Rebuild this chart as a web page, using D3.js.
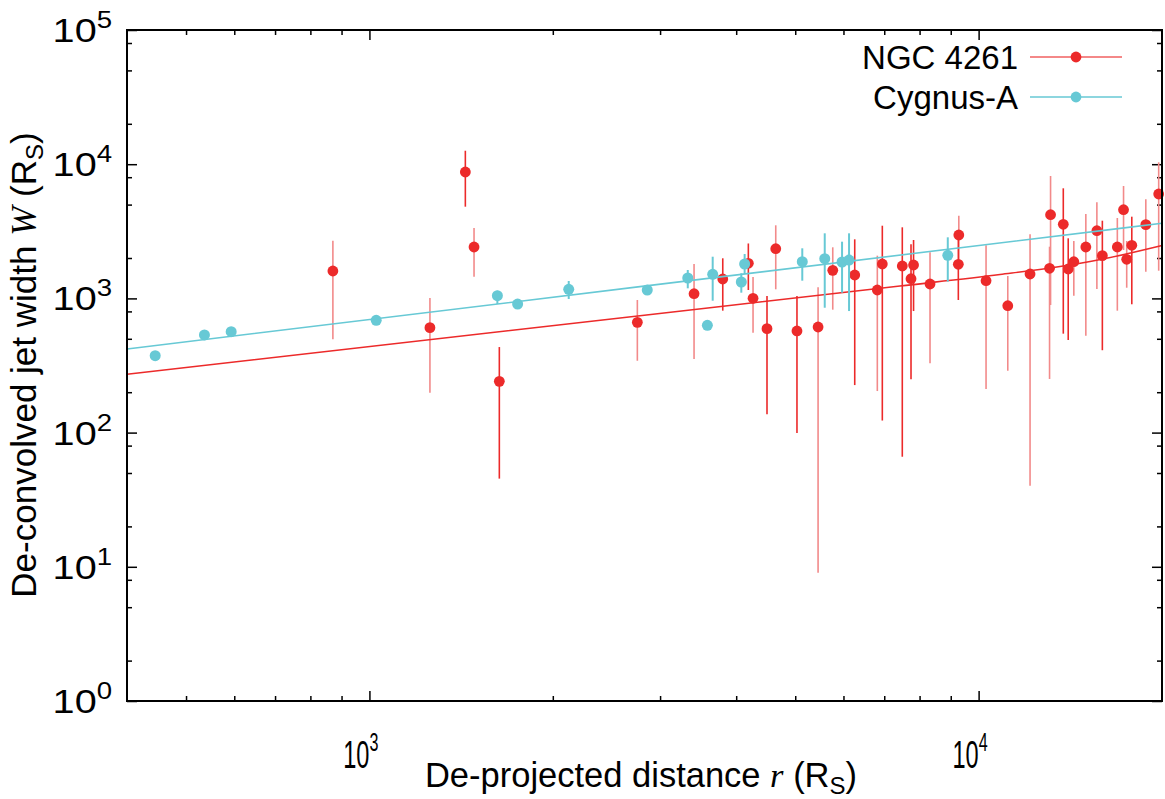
<!DOCTYPE html>
<html>
<head>
<meta charset="utf-8">
<script src="https://cdn.jsdelivr.net/npm/d3@7"></script>
<style>
  body { margin: 0; background: #fff; }
  svg { display: block; font-family: "Liberation Sans", Arial, Helvetica, sans-serif; }
</style>
</head>
<body>
<svg id="chart" width="1165" height="799"></svg>
<script>
// NGC 4261: de-projected distance r (R_S), jet width W (R_S), error bar ends
const ngcR = [871, 1257, 1437, 1485, 1634, 2753, 3411, 3802, 4188, 4263, 4494, 4645, 5033, 5451, 5762, 6261, 6819, 6949, 7494, 7745, 7820, 8322, 9279, 9262, 10285, 11165, 12146, 13075, 13125, 13772, 14031, 14331, 14997, 15636, 15963, 16893, 17294, 17502, 17842, 18813, 19751];
const ngcW = [1600, 605, 8747, 2415, 241, 663, 1084, 1395, 1826, 1002, 595, 2346, 572, 612, 1619, 1494, 1155, 1804, 1744, 1402, 1774, 1280, 2967, 1795, 1355, 882, 1520, 1676, 4204, 3566, 1656, 1877, 2415, 3195, 2081, 2415, 4581, 1956, 2487, 3542, 5998];
const ngcLo = [496, 198, 4824, 1451, 45.4, 343, 353, 810, 1155, 555, 137, 1169, 99.3, 9.04, 824, 226, 204, 123, 66.1, 250, 805, 328, 1867, 973, 211, 289, 40.2, 251, 893, 546, 490, 1047, 527, 1175, 411, 810, 2294, 1201, 904, 1581, 1608];
const ngcHi = [2692, 1007, 12600, 3346, 434, 973, 1804, 1990, 2566, 1444, 1042, 3505, 1042, 1209, 2403, 2756, 2081, 3481, 3386, 2530, 2724, 2205, 4133, 2724, 2487, 1469, 3003, 2428, 8166, 6613, 2803, 2677, 4255, 5201, 3793, 3973, 6880, 2677, 4063, 5474, 10332];
// two observing sessions, drawn with different error bar shades
const ngcSession = ["a", "a", "b", "a", "b", "a", "a", "b", "b", "a", "b", "a", "b", "a", "a", "b", "a", "b", "b", "b", "b", "a", "a", "b", "a", "a", "a", "a", "a", "b", "b", "a", "a", "a", "b", "a", "a", "a", "b", "a", "a"];

// Cygnus-A
const cygR = [445, 536, 593, 1026, 1622, 1751, 2124, 2858, 3331, 3587, 3660, 4078, 4130, 5135, 5590, 5968, 6128, 8900];
const cygW = [374, 534, 565, 687, 1047, 908, 1169, 1155, 1419, 630, 1512, 1325, 1804, 1877, 1976, 1867, 1932, 2095];
const cygLo = [374, 534, 565, 687, 908, 908, 990, 1060, 1189, 581, 961, 1103, 1520, 1355, 852, 1103, 805, 1332];
const cygHi = [374, 534, 565, 687, 1141, 908, 1348, 1259, 1628, 690, 2045, 1538, 2142, 2362, 3055, 2646, 3055, 2852];

// fitted profiles
const ngcFitR = [400, 2780, 7429, 10842, 13604, 15850, 20000];
const ngcFitW = [272, 743, 1237, 1507, 1729, 1950, 2479];
const cygFitR = [400, 2780, 20000];
const cygFitW = [420, 1223, 3627];

const xMajor = [1e3, 1e4];
const yMajor = [1, 10, 100, 1e3, 1e4, 1e5];
const legendNames = ["NGC 4261", "Cygnus-A"];

const width = 1165;
const height = 799;
const margin = { top: 30, right: 3, bottom: 98, left: 127 };
const red = "#ec2a2a";
const redLight = "#f28a8a";
const cyan = "#67c9d5";

const svg = d3.select("#chart");

const xScale = d3.scaleLog().domain([400, 20000]).range([margin.left, width - margin.right]);
const yScale = d3.scaleLog().domain([1, 1e5]).range([height - margin.bottom, margin.top]);

const xMinor = [];
[100, 1000, 10000].forEach((d) => {
  for (let k = 2; k <= 9; k++) {
    const v = d * k;
    if (v > 400 && v < 20000) xMinor.push(v);
  }
});
const yMinor = [];
[1, 10, 100, 1000, 10000].forEach((d) => {
  [2, 5, 8].forEach((k) => yMinor.push(d * k));
});

const x0 = xScale.range()[0];
const x1 = xScale.range()[1];
const y0 = yScale.range()[0];
const y1 = yScale.range()[1];

// ticks on all four sides, pointing inwards
const tickGroups = [
  [d3.axisBottom(xScale), `translate(0,${y0})`, xMajor, xMinor],
  [d3.axisTop(xScale), `translate(0,${y1})`, xMajor, xMinor],
  [d3.axisLeft(yScale), `translate(${x0},0)`, yMajor, yMinor],
  [d3.axisRight(yScale), `translate(${x1},0)`, yMajor, yMinor],
];
tickGroups.forEach(([axis, tr, major, minor]) => {
  svg.append("g")
    .attr("transform", tr)
    .call(axis.tickValues(major).tickSize(-10).tickFormat(""))
    .call((g) => g.select(".domain").remove())
    .call((g) => g.selectAll("line").attr("stroke", "#000").attr("stroke-width", 1.5));
  svg.append("g")
    .attr("transform", tr)
    .call(axis.tickValues(minor).tickSize(-5).tickFormat(""))
    .call((g) => g.select(".domain").remove())
    .call((g) => g.selectAll("line").attr("stroke", "#000").attr("stroke-width", 1.5));
});

// y tick labels 10^n
yMajor.forEach((v) => {
  const g = svg.append("g")
    .attr("transform", `translate(112,${yScale(v) + 12}) scale(1.2,1)`);
  const t = g.append("text").attr("text-anchor", "end").attr("font-size", 33).attr("fill", "#000");
  t.append("tspan").text("10");
  t.append("tspan").attr("font-size", 23).attr("dy", -14).text(Math.round(Math.log10(v)));
});

// x tick labels 10^n
xMajor.forEach((v) => {
  const g = svg.append("g")
    .attr("transform", `translate(${xScale(v) + 9},768) scale(0.62,1)`);
  const t = g.append("text").attr("text-anchor", "end").attr("font-size", 38).attr("fill", "#000");
  t.append("tspan").text("10");
  t.append("tspan").attr("font-size", 26).attr("dy", -17).text(Math.round(Math.log10(v)));
});

// axis titles
const xTitle = svg.append("text")
  .attr("x", 641).attr("y", 787)
  .attr("text-anchor", "middle").attr("font-size", 34.5);
xTitle.append("tspan").text("De-projected distance ");
xTitle.append("tspan").attr("font-family", "'Liberation Serif', serif").attr("font-style", "italic").text("r");
xTitle.append("tspan").text(" (R");
xTitle.append("tspan").attr("font-size", 24).attr("dy", 7).text("S");
xTitle.append("tspan").attr("dy", -7).text(")");

const yTitle = svg.append("text")
  .attr("transform", `translate(36,365) rotate(-90)`)
  .attr("text-anchor", "middle").attr("font-size", 35);
yTitle.append("tspan").text("De-convolved jet width  ");
yTitle.append("tspan").attr("font-family", "'Liberation Serif', serif").attr("font-style", "italic").text("W");
yTitle.append("tspan").text(" (R");
yTitle.append("tspan").attr("font-size", 24).attr("dy", 7).text("S");
yTitle.append("tspan").attr("dy", -7).text(")");

const sessionColor = d3.scaleOrdinal().domain(["a", "b"]).range([redLight, red]);

const ngc = ngcR.map((r, i) => ({ r, w: ngcW[i], lo: ngcLo[i], hi: ngcHi[i], s: ngcSession[i] }));
const cyg = cygR.map((r, i) => ({ r, w: cygW[i], lo: cygLo[i], hi: cygHi[i] }));

const line = d3.line()
  .x((d) => xScale(d[0]))
  .y((d) => yScale(d[1]))
  .curve(d3.curveMonotoneX);

// NGC 4261
svg.append("g").selectAll("line")
  .data(ngc).enter().append("line")
  .attr("x1", (d) => xScale(d.r)).attr("x2", (d) => xScale(d.r))
  .attr("y1", (d) => yScale(d.lo)).attr("y2", (d) => yScale(d.hi))
  .attr("stroke", (d) => sessionColor(d.s)).attr("stroke-width", 1.6);

svg.append("path")
  .datum(ngcFitR.map((r, i) => [r, ngcFitW[i]]))
  .attr("d", line).attr("fill", "none").attr("stroke", red).attr("stroke-width", 1.6);

svg.append("g").selectAll("circle")
  .data(ngc).enter().append("circle")
  .attr("cx", (d) => xScale(d.r)).attr("cy", (d) => yScale(d.w))
  .attr("r", 5.4).attr("fill", red);

// Cygnus-A
svg.append("g").selectAll("line")
  .data(cyg).enter().append("line")
  .attr("x1", (d) => xScale(d.r)).attr("x2", (d) => xScale(d.r))
  .attr("y1", (d) => yScale(d.lo)).attr("y2", (d) => yScale(d.hi))
  .attr("stroke", cyan).attr("stroke-width", 2);

svg.append("path")
  .datum(cygFitR.map((r, i) => [r, cygFitW[i]]))
  .attr("d", line).attr("fill", "none").attr("stroke", cyan).attr("stroke-width", 1.6);

svg.append("g").selectAll("circle")
  .data(cyg).enter().append("circle")
  .attr("cx", (d) => xScale(d.r)).attr("cy", (d) => yScale(d.w))
  .attr("r", 5.5).attr("fill", cyan);

// frame
svg.append("rect")
  .attr("x", x0).attr("y", y1)
  .attr("width", x1 - x0).attr("height", y0 - y1)
  .attr("fill", "none").attr("stroke", "#000").attr("stroke-width", 2);

// legend
const legend = svg.append("g");
[[legendNames[0], "#f06060", red, 57], [legendNames[1], cyan, cyan, 97]].forEach(([name, lc, pc, ly]) => {
  legend.append("text")
    .attr("x", 1018).attr("y", ly + 12)
    .attr("text-anchor", "end").attr("font-size", 33).text(name);
  legend.append("line")
    .attr("x1", 1030).attr("x2", 1122).attr("y1", ly).attr("y2", ly)
    .attr("stroke", lc).attr("stroke-width", 1.4);
  legend.append("circle").attr("cx", 1076).attr("cy", ly).attr("r", 5.4).attr("fill", pc);
});
</script>
</body>
</html>
